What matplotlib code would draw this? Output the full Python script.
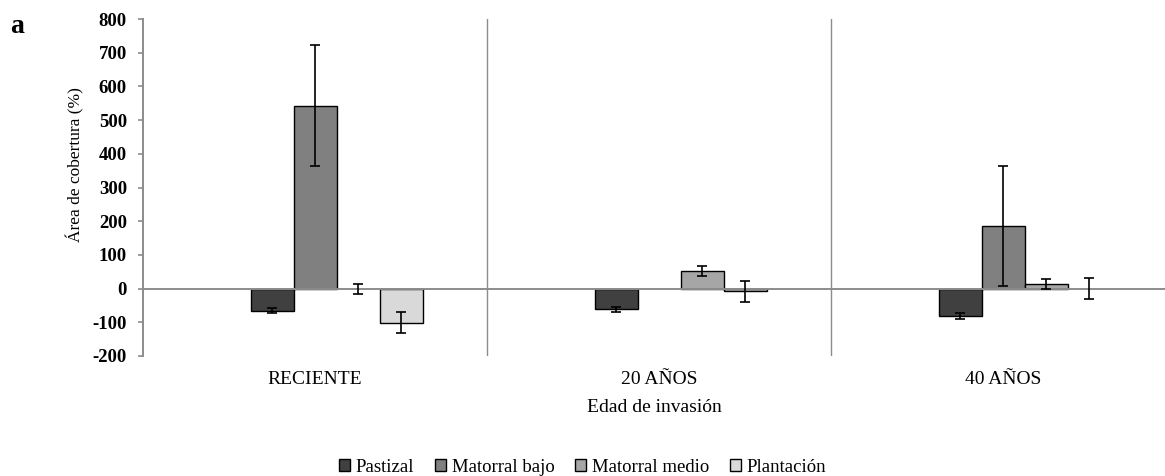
import numpy as np
import matplotlib
matplotlib.use("Agg")
import matplotlib.pyplot as plt
from matplotlib.patches import Patch

categories = ["RECIENTE", "20 AÑOS", "40 AÑOS"]
series = ["Pastizal", "Matorral bajo", "Matorral medio", "Plantación"]
pastizal = [-65, -61, -81]
pastizal_err = [7, 7, 8]
matorral_bajo = [543, np.nan, 185]
matorral_bajo_err = [180, np.nan, 178]
matorral_medio = [0, 51, 13]
matorral_medio_err = [15, 15, 15]
plantacion = [-101, -8, 0]
plantacion_err = [32, 31, 32]
yticks = [-200, -100, 0, 100, 200, 300, 400, 500, 600, 700, 800]

values = [pastizal, matorral_bajo, matorral_medio, plantacion]
errors = [pastizal_err, matorral_bajo_err, matorral_medio_err, plantacion_err]
colors = ["#404040", "#808080", "#a6a6a6", "#d9d9d9"]

plt.rcParams['font.family'] = ['Liberation Serif', 'DejaVu Serif']

fig = plt.figure(figsize=(11.65, 4.76), dpi=100)
ax = fig.add_axes([143/1165, 1-356/476, 1-143/1165, (356-19)/476])

x = np.arange(len(categories))
w = 0.125
gray = "#8c8c8c"
for k, (vals, errs, c) in enumerate(zip(values, errors, colors)):
    pos = x + (k - 1) * w
    v = np.array(vals, dtype=float)
    heights = np.where(v == 0, np.nan, v)
    ax.bar(pos, heights, width=w, color=c, edgecolor="black", linewidth=1.0, zorder=2)
    ax.errorbar(pos, v, yerr=errs, fmt="none", ecolor="black", elinewidth=1.2,
                capsize=3.3, capthick=1.2, zorder=4)

ax.axhline(0, color=gray, lw=1.4, zorder=3)
for b in [0.5, 1.5]:
    ax.axvline(b, color=gray, lw=1.0, zorder=1)

ax.set_xlim(-0.5, 2.5 - 10/344)
ax.set_ylim(-200, 800)
ax.set_yticks(yticks)
ax.set_yticklabels([str(v) for v in yticks], fontweight="bold", fontsize=13.5)
ax.set_xticks(x)
ax.set_xticklabels(categories, fontsize=14)
ax.tick_params(axis="x", length=0, pad=11)
ax.tick_params(axis="y", direction="out", length=3.6, width=1.2, color=gray, pad=8)

for s in ["top", "right", "bottom"]:
    ax.spines[s].set_visible(False)
ax.spines["left"].set_color(gray)
ax.spines["left"].set_linewidth(1.4)

ax.set_xlabel("Edad de invasión", fontsize=14, labelpad=8)
ax.set_ylabel("Área de cobertura (%)", fontsize=12.5)
ax.yaxis.set_label_coords(-(143-84)/1022, (356-165)/337)

handles = [Patch(facecolor=c, edgecolor="black", linewidth=1.0) for c in colors]
fig.legend(handles, series, loc="center", bbox_to_anchor=(0.5, 1-467/476), ncol=4,
           frameon=False, fontsize=13.5, handlelength=0.6, handleheight=0.6,
           handletextpad=0.3, columnspacing=1.1)

fig.text(10/1165, 1-33/476, "a", fontsize=20, fontweight="bold", va="baseline")

fig.savefig("out.png", dpi=100)
